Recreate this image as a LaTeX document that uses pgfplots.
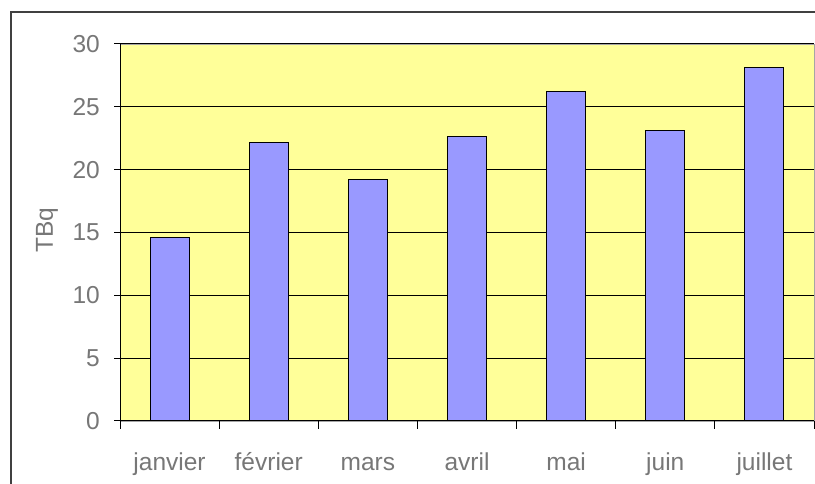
\documentclass[border=0pt]{standalone}
\usepackage{fontspec}
\setmainfont{Liberation Sans}
\usepackage{pgfplots}
\pgfplotsset{compat=1.18}
\definecolor{bgyellow}{HTML}{FFFF99}
\definecolor{barblue}{HTML}{9999FF}
\definecolor{txtgray}{HTML}{777777}
\definecolor{framegray}{HTML}{404040}
\begin{document}
\begin{tikzpicture}
\useasboundingbox (0pt,0pt) rectangle (815pt,484pt);
\fill[white] (0pt,0pt) rectangle (815pt,484pt);
\draw[framegray, line width=1.5pt] (11pt,-20pt) -- (11pt,472pt) -- (840pt,472pt);
\begin{axis}[
  at={(120pt,63pt)}, anchor=south west,
  scale only axis, width=694pt, height=377pt,
  xmin=-0.5, xmax=6.5, ymin=0, ymax=30,
  ytick={0,5,...,30},
  xtick={0,...,6},
  xticklabels={janvier,février,mars,avril,mai,juin,juillet},
  minor xtick={-0.5,0.5,...,6.5},
  major x tick style={draw=none},
  minor x tick style={black, line width=1pt},
  minor tick length=8pt,
  major tick length=6pt,
  y tick style={black, line width=1pt},
  tick align=outside,
  xtick pos=bottom, ytick pos=left,
  axis x line*=bottom, axis y line*=left,
  axis line style={-, black, line width=1pt},
  axis background/.style={fill=bgyellow, draw=gray!70, line width=0.8pt},
  ymajorgrids, grid style={black, line width=1pt},
  /pgf/number format/assume math mode=true,
  tick label style={font=\fontsize{24.5}{29}\selectfont, text=txtgray},
  xticklabel style={anchor=base, yshift=-44pt},
  yticklabel style={anchor=east, xshift=-14pt, inner sep=0pt},
  ybar, bar width=39pt,
  clip=false,
]
\addplot[fill=barblue, draw=black, line width=1pt] coordinates {
  (0,14.6) (1,22.15) (2,19.2) (3,22.65) (4,26.25) (5,23.15) (6,28.15)
};
\end{axis}
\node[rotate=90, text=txtgray, font=\fontsize{24.5}{29}\selectfont] at (47pt,254pt) {TBq};
\end{tikzpicture}
\end{document}
